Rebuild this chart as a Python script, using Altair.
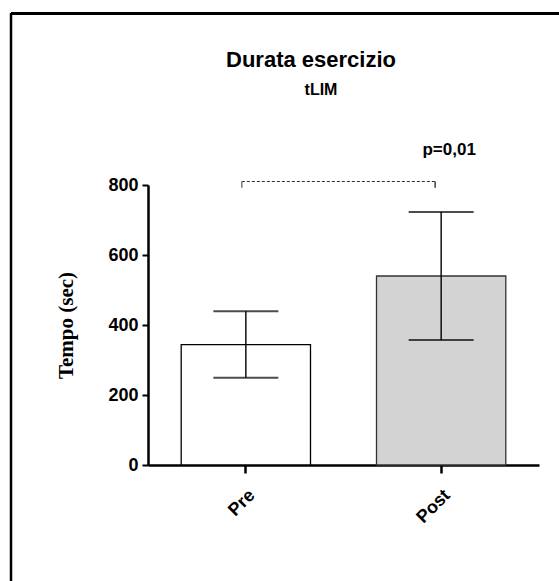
import altair as alt
import pandas as pd

categories = ["Pre", "Post"]
means = [344, 540]
sds = [95, 183]
bar_fills = ["#ffffff", "#d3d3d3"]
bar_strokes = ["#000000", "#333333"]
bracket_level = 810
bracket_drop = 792
p_label = "p=0,01"
p_level = 885
y_ticks = [0, 200, 400, 600, 800]

df = pd.DataFrame({
    "cat": categories,
    "mean": means,
    "lo": [m - s for m, s in zip(means, sds)],
    "hi": [m + s for m, s in zip(means, sds)],
    "fill": bar_fills,
    "stroke": bar_strokes,
})

W, H = 391, 280
PAD_L, PAD_T = 148, 185

xscale = alt.Scale(domain=categories, paddingInner=0.338, paddingOuter=0.17)
yscale = alt.Scale(domain=[0, 800])

X = alt.X("cat:N", scale=xscale, sort=categories,
          axis=alt.Axis(title=None, labelAngle=-45, labelFont="Liberation Sans",
                        labelFontWeight="bold", labelFontSize=18, labelColor="black",
                        labelPadding=13, tickSize=8, tickWidth=2.5, tickColor="black",
                        domainColor="black", domainWidth=2.5, labelAlign="right",
                        labelBaseline="top"))
Y = alt.Y("mean:Q", scale=yscale,
          axis=alt.Axis(values=y_ticks, grid=False, title="Tempo (sec)",
                        titleFont="Liberation Serif", titleFontWeight="bold",
                        titleFontSize=21, titleColor="black", titleAngle=270,
                        titleX=-76, titleY=H / 2, titleAlign="center",
                        titleBaseline="alphabetic",
                        labelFont="Liberation Sans", labelFontWeight="bold",
                        labelFontSize=18, labelColor="black", labelPadding=4,
                        tickSize=6, tickWidth=2, tickColor="black",
                        domainColor="black", domainWidth=2.5))

bars = alt.Chart(df).mark_bar(strokeWidth=1.3).encode(
    x=X, y=Y,
    fill=alt.Fill("fill:N", scale=None),
    stroke=alt.Stroke("stroke:N", scale=None),
)

whisk = alt.Chart(df).mark_rule(color="black", strokeWidth=1.4).encode(
    x=alt.X("cat:N", scale=xscale, sort=categories),
    y=alt.Y("lo:Q", scale=yscale), y2="hi:Q")

cap_lo = alt.Chart(df).mark_tick(color="black", thickness=2, size=65, orient="horizontal").encode(
    x=alt.X("cat:N", scale=xscale, sort=categories), y=alt.Y("lo:Q", scale=yscale))
cap_hi = alt.Chart(df).mark_tick(color="black", thickness=2, size=65, orient="horizontal").encode(
    x=alt.X("cat:N", scale=xscale, sort=categories), y=alt.Y("hi:Q", scale=yscale))

br = pd.DataFrame({"a": [categories[0]], "b": [categories[1]], "y": [bracket_level]})
bracket = alt.Chart(br).mark_rule(color="#333333", strokeWidth=1.2, strokeDash=[3, 2],
                                  xOffset=-4, x2Offset=-6, clip=False).encode(
    x=alt.X("a:N", scale=xscale, sort=categories), x2="b:N",
    y=alt.Y("y:Q", scale=yscale))

ends = pd.DataFrame({"cat": categories, "y": [bracket_level] * 2, "y2": [bracket_drop] * 2})
end_l = alt.Chart(ends.iloc[[0]]).mark_rule(color="#555555", strokeWidth=1.2, xOffset=-4, clip=False).encode(
    x=alt.X("cat:N", scale=xscale, sort=categories), y=alt.Y("y:Q", scale=yscale), y2="y2:Q")
end_r = alt.Chart(ends.iloc[[1]]).mark_rule(color="#333333", strokeWidth=1.4, xOffset=-6, clip=False).encode(
    x=alt.X("cat:N", scale=xscale, sort=categories), y=alt.Y("y:Q", scale=yscale), y2="y2:Q")

pt = pd.DataFrame({"cat": [categories[1]], "y": [p_level], "t": [p_label]})
ptext = alt.Chart(pt).mark_text(font="Liberation Sans", fontWeight="bold", fontSize=17,
                                color="black", baseline="alphabetic", dx=8).encode(
    x=alt.X("cat:N", scale=xscale, sort=categories), y=alt.Y("y:Q", scale=yscale), text="t:N")

tt = pd.DataFrame({"t": ["Durata esercizio"]})
title = alt.Chart(tt).mark_text(font="Liberation Sans", fontWeight="bold", fontSize=22,
                                color="black", baseline="alphabetic", align="center").encode(
    x=alt.value(311 - PAD_L), y=alt.value(67 - PAD_T), text="t:N")
st = pd.DataFrame({"t": ["tLIM"]})
subtitle = alt.Chart(st).mark_text(font="Liberation Sans", fontWeight="bold", fontSize=16,
                                   color="black", baseline="alphabetic", align="center").encode(
    x=alt.value(321 - PAD_L), y=alt.value(95 - PAD_T), text="t:N")

frame_top = alt.Chart(tt).mark_rule(color="black", strokeWidth=3).encode(
    x=alt.value(11 - PAD_L), x2=alt.value(600 - PAD_L), y=alt.value(13.5 - PAD_T))
frame_left = alt.Chart(tt).mark_rule(color="black", strokeWidth=2.5).encode(
    x=alt.value(11 - PAD_L), y=alt.value(13 - PAD_T), y2=alt.value(600 - PAD_T))

chart = alt.layer(bars, whisk, cap_lo, cap_hi, bracket, end_l, end_r, ptext,
                  title, subtitle, frame_top, frame_left).properties(
    width=W, height=H,
    autosize=alt.AutoSizeParams(type="none"),
    padding={"left": PAD_L, "top": PAD_T, "right": 559 - PAD_L - W, "bottom": 581 - PAD_T - H},
    background="white",
).configure_view(stroke=None)

chart.save("out.html", embed_options={"renderer": "svg", "actions": False})
